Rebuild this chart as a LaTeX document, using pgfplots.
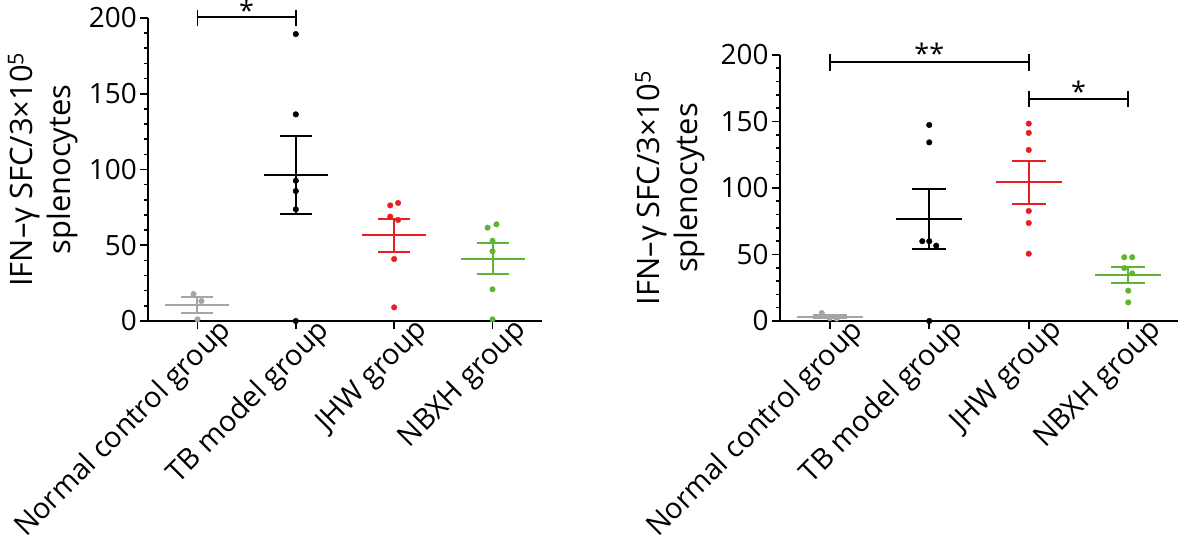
\documentclass[border=0pt]{standalone}
\usepackage{pgfplots}
\pgfplotsset{compat=1.18}
\usepackage{fontspec}
\setmainfont{Open Sans}
\definecolor{cgray}{RGB}{165,165,165}
\definecolor{cred}{RGB}{232,30,36}
\definecolor{cgreen}{RGB}{96,180,52}

\pgfplotsset{
 myaxis/.style={
  scale only axis,
  xmin=-0.5, xmax=3.5, ymin=0, ymax=200,
  axis x line=bottom, axis y line=left,
  axis line style={line width=1.8bp, -},
  xtick={0,1,2,3},
  xticklabels={Normal control group, TB model group, JHW group, NBXH group},
  ytick={0,50,100,150,200},
  minor y tick num=4,
  tick align=outside,
  major tick length=8bp, minor tick length=4.5bp,
  tick style={line width=1.6bp, black},
  tick label style={font=\fontsize{28}{32}\selectfont},
  xticklabel style={font=\fontsize{29}{33}\selectfont, rotate=45, anchor=east, xshift=26bp, yshift=-19bp},
  /pgf/number format/assume math mode=true,
  clip=false,
  ylabel style={font=\fontsize{31}{38}\selectfont, align=center},
  ylabel={IFN–γ SFC/3×10\textsuperscript{5}\\splenocytes},
 },
 pts/.style={only marks, mark=*, mark size=2.8bp, #1, mark options={fill=#1, draw=#1}},
 meanerr/.style n args={3}{only marks, mark=-, mark size=#2bp, mark options={line width=2bp, #1},
   error bars/.cd, y dir=both, y explicit,
   error bar style={line width=2bp, #1},
   error mark options={rotate=90, mark size=#3bp, line width=2bp, #1}},
}

\begin{document}
\begin{tikzpicture}
\path[use as bounding box] (0,0) rectangle (1181bp,546bp);

% ---------------- Left panel ----------------
\begin{axis}[myaxis, at={(148.3bp,225bp)}, anchor=south west,
  width=393.4bp, height=303bp,
  every axis y label/.append style={at={(axis description cs:-0.268,0.5)}, anchor=center}]
\addplot[pts=cgray] coordinates {(-0.04,17.8) (0.04,13.2) (0,1.1)};
\addplot[meanerr={cgray}{32}{16}] coordinates {(0,10.7) +- (0,5.2)};
\addplot[pts=black] coordinates {(1,189.4) (1,136.4) (1,92.6) (1,85.8) (1,73.7) (1,0)};
\addplot[meanerr={black}{32}{16}] coordinates {(1,96.4) +- (0,26)};
\addplot[pts=cred] coordinates {(1.96,76.3) (2.04,77.9) (1.96,68.9) (2.04,66.7) (2,40.9) (2,9.0)};
\addplot[meanerr={cred}{32}{16}] coordinates {(2,56.6) +- (0,10.9)};
\addplot[pts=cgreen] coordinates {(2.95,61.6) (3.04,63.8) (3,53) (3,46) (3,20.9) (3,1.1)};
\addplot[meanerr={cgreen}{32}{16}] coordinates {(3,41.1) +- (0,10.3)};
\draw[line width=1.8bp] (axis cs:0,205.5) -- (axis cs:0,195);
\draw[line width=1.8bp] (axis cs:1,205.5) -- (axis cs:1,195);
\draw[line width=1.8bp] (axis cs:0,200.7) -- (axis cs:1,200.7);
\node[anchor=base, font=\fontsize{27}{30}\selectfont] at (axis cs:0.5,198.5) {*};
\end{axis}

% ---------------- Right panel ----------------
\begin{axis}[myaxis, at={(780bp,225bp)}, anchor=south west,
  width=398bp, height=266bp,
  every axis y label/.append style={at={(axis description cs:-0.276,0.5)}, anchor=center}]
\addplot[pts=cgray] coordinates {(-0.08,6) (0.07,1.8) (0,2.2)};
\addplot[meanerr={cgray}{33}{17}] coordinates {(0,3.3) +- (0,1.2)};
\addplot[pts=black] coordinates {(1,147.4) (1,134.3) (0.93,60) (1,60) (1.07,56.6) (1,0)};
\addplot[meanerr={black}{33}{17}] coordinates {(1,76.4) +- (0,22.6)};
\addplot[pts=cred] coordinates {(2,148.4) (2,141.4) (2,128.6) (2,82.7) (2,73.7) (2,50.6)};
\addplot[meanerr={cred}{33}{17}] coordinates {(2,104.2) +- (0,16.4)};
\addplot[pts=cgreen] coordinates {(2.96,47.9) (3.04,47.9) (2.96,39.8) (3.04,35.8) (3,22.8) (3,14)};
\addplot[meanerr={cgreen}{33}{17}] coordinates {(3,34.7) +- (0,5.8)};
\draw[line width=1.8bp] (axis cs:0,200.8) -- (axis cs:0,188.2);
\draw[line width=1.8bp] (axis cs:2,200.8) -- (axis cs:2,188.2);
\draw[line width=1.8bp] (axis cs:0,195) -- (axis cs:2,195);
\node[anchor=base, font=\fontsize{27}{30}\selectfont] at (axis cs:1,193.5) {**};
\draw[line width=1.8bp] (axis cs:2,173.2) -- (axis cs:2,160.6);
\draw[line width=1.8bp] (axis cs:3,173.2) -- (axis cs:3,160.6);
\draw[line width=1.8bp] (axis cs:2,166.9) -- (axis cs:3,166.9);
\node[anchor=base, font=\fontsize{27}{30}\selectfont] at (axis cs:2.5,164.7) {*};
\end{axis}
\end{tikzpicture}
\end{document}
